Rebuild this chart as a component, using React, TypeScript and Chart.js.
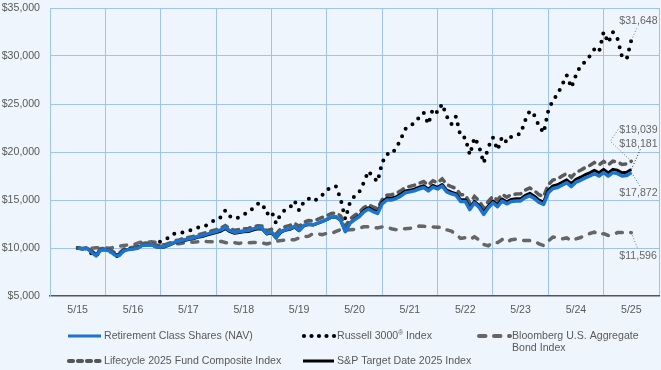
import React, { useEffect, useRef } from 'react';
import { Chart, registerables } from 'chart.js';

Chart.register(...registerables);

// ---------- DATA (monthly, 5/15 .. 5/25) ----------
const xTickLabels = ['5/15', '5/16', '5/17', '5/18', '5/19', '5/20', '5/21', '5/22', '5/23', '5/24', '5/25'];
const yTickValues = [5000, 10000, 15000, 20000, 25000, 30000, 35000];

const retirement = [
  10000, 9920, 9980, 9550, 9180, 9800, 9820, 9680, 9280, 9220, 9720, 9830,
  9900, 9980, 10280, 10300, 10350, 10120, 10080, 10200, 10380, 10600, 10700, 10830,
  10950, 11040, 11200, 11300, 11450, 11580, 11720, 11880, 12150, 11800, 11620, 11720,
  11780, 11820, 11990, 12100, 12080, 11520, 11680, 11100, 11700, 11920, 12020, 12250,
  11850, 12350, 12500, 12420, 12600, 12780, 12980, 13230, 13250, 12900, 11700, 12550,
  12950, 13250, 13750, 14050, 13800, 13600, 14600, 15000, 15000, 15150, 15400, 15750,
  15850, 15950, 16150, 16300, 15950, 16350, 16150, 16450, 15850, 15650, 15500, 14850,
  14850, 14000, 14700, 14250, 13500, 14200, 14700, 14300, 14900, 14600, 14850, 14900,
  14900, 15250, 15450, 15150, 14750, 14550, 15750, 16200, 16300, 16550, 16800, 16400,
  16850, 17050, 17300, 17500, 17750, 17500, 17850, 17500, 17850, 17750, 17500, 17550,
  17872,
];

const russell3000 = [
  10000, 9830, 10000, 9400, 9130, 9850, 9910, 9700, 9160, 9160, 9800, 9860,
  10040, 10060, 10460, 10490, 10500, 10270, 10730, 10920, 11130, 11520, 11530, 11650,
  11800, 11900, 12120, 12160, 12390, 12670, 13060, 13200, 13920, 13300, 13050, 13200,
  13500, 13700, 14150, 14600, 14650, 13550, 13850, 12550, 13550, 14000, 14200, 14900,
  13900, 14800, 15150, 14850, 15100, 15500, 16000, 16400, 16400, 15100, 13000, 14700,
  15400, 15800, 16800, 18000, 17400, 16900, 18900, 19800, 19750, 20400, 21300, 22400,
  22600, 23100, 23600, 24100, 22900, 24500, 24100, 25000, 23700, 22900, 23700, 21600,
  21500, 19700, 21500, 20600, 18850, 20500, 21500, 20200, 21600, 21000, 21600, 21800,
  21900, 23300, 24300, 23800, 22700, 22000, 24300, 25400, 26000, 27000, 28000, 26700,
  28000, 29000, 29400, 30000, 30700, 30400, 32500, 31400, 32500, 31800, 29900, 29700,
  31648,
];

const bloombergAgg = [
  10000, 9900, 9970, 9960, 10030, 10050, 10020, 9970, 10100, 10180, 10270, 10320,
  10330, 10510, 10640, 10630, 10640, 10580, 10330, 10350, 10380, 10450, 10440, 10530,
  10610, 10600, 10640, 10730, 10670, 10650, 10640, 10690, 10570, 10480, 10550, 10480,
  10560, 10550, 10570, 10570, 10510, 10430, 10530, 10720, 10770, 10840, 10870, 10850,
  11050, 11190, 11210, 11500, 11480, 11390, 11530, 11520, 11720, 11930, 11870, 11890,
  11950, 12030, 12210, 12200, 12140, 12080, 12200, 12180, 12010, 11910, 11990, 12010,
  12050, 12140, 12280, 12270, 12200, 12200, 12170, 12160, 11890, 11760, 11430, 11000,
  11070, 10900, 11160, 10840, 10370, 10230, 10600, 10560, 10880, 10600, 10870, 10930,
  10820, 10780, 10770, 10700, 10430, 10260, 10730, 11140, 11110, 10950, 11050, 10770,
  10950, 11090, 11350, 11510, 11660, 11370, 11500, 11310, 11370, 11610, 11610, 11650,
  11596,
];

const lifecycle2025 = [
  10000, 9950, 10030, 9680, 9380, 9920, 9950, 9850, 9500, 9460, 9880, 10000,
  10080, 10180, 10470, 10500, 10540, 10310, 10250, 10350, 10520, 10740, 10850, 10990,
  11110, 11210, 11370, 11480, 11630, 11770, 11910, 12080, 12330, 12010, 11840, 11930,
  12000, 12040, 12200, 12310, 12300, 11800, 11960, 11450, 12000, 12230, 12350, 12580,
  12250, 12700, 12850, 12820, 12990, 13180, 13370, 13600, 13650, 13350, 12250, 13000,
  13400, 13700, 14200, 14500, 14280, 14100, 15050, 15500, 15550, 15700, 15950, 16300,
  16420, 16540, 16750, 16920, 16560, 16990, 16800, 17200, 16600, 16380, 16200, 15540,
  15540, 14680, 15380, 14920, 14160, 14860, 15380, 14980, 15600, 15300, 15550, 15620,
  15640, 16030, 16260, 15960, 15550, 15350, 16600, 17080, 17200, 17490, 17770, 17370,
  17870, 18100, 18380, 18600, 18900, 18650, 19020, 18660, 19050, 18960, 18700, 18760,
  19039,
];

const sp2025 = [
  10000, 9930, 9990, 9600, 9280, 9820, 9840, 9700, 9350, 9320, 9760, 9860,
  9920, 10000, 10260, 10300, 10330, 10120, 10050, 10140, 10320, 10550, 10640, 10760,
  10880, 10960, 11110, 11200, 11350, 11480, 11600, 11750, 12020, 11700, 11530, 11620,
  11680, 11720, 11880, 11990, 11980, 11450, 11600, 11040, 11620, 11850, 11950, 12180,
  11800, 12300, 12450, 12390, 12570, 12750, 12950, 13200, 13220, 12880, 11750, 12600,
  13020, 13350, 13870, 14200, 13950, 13750, 14780, 15180, 15180, 15330, 15580, 15930,
  16030, 16130, 16330, 16480, 16120, 16520, 16320, 16620, 16020, 15820, 15670, 15020,
  15020, 14170, 14870, 14420, 13670, 14380, 14900, 14500, 15100, 14800, 15060, 15120,
  15120, 15480, 15690, 15390, 14990, 14790, 16010, 16470, 16580, 16840, 17100, 16700,
  17160, 17370, 17630, 17830, 18090, 17840, 18190, 17830, 18190, 18090, 17830, 17880,
  18181,
];

// ---------- STYLE ----------
const BG = '#EEF5FC';
const GRID = '#9FC3F0';
const TEXT = '#595959';
const BLUE = '#1B75D0';
const FONT = "'Liberation Sans', Arial, sans-serif";
const FS = 10.6;

const toXY = (arr: number[]) => arr.map((v, i) => ({ x: i, y: v }));
const money = (v: number) => '$' + Math.round(v).toLocaleString('en-US');

const hGridPlugin = {
  id: 'hgrid',
  beforeDatasetsDraw(chart: any) {
    const ctx = chart.ctx as CanvasRenderingContext2D;
    const ys = chart.scales.y;
    const { left, right } = chart.chartArea;
    ctx.save();
    ctx.fillStyle = GRID;
    yTickValues.forEach((v) => {
      if (v === yTickValues[0]) return;
      const y = Math.round(ys.getPixelForValue(v) - 0.5);
      ctx.fillRect(Math.floor(left), y, Math.ceil(right - left), 1);
    });
    ctx.restore();
  },
};

const overlayPlugin = {
  id: 'overlay',
  afterDraw(chart: any) {
    const ctx = chart.ctx as CanvasRenderingContext2D;
    const xs = chart.scales.x;
    const ys = chart.scales.y;
    const last = retirement.length - 1;
    const ex = xs.getPixelForValue(last);

    ctx.save();
    ctx.font = `${FS}px ${FONT}`;
    ctx.textBaseline = 'middle';
    ctx.textAlign = 'left';

    // ----- end labels with dotted leaders -----
    const leader = (pts: number[][], color: string) => {
      ctx.save();
      ctx.strokeStyle = color;
      ctx.lineWidth = 1;
      ctx.setLineDash([1, 2]);
      ctx.beginPath();
      ctx.moveTo(pts[0][0], pts[0][1]);
      for (let i = 1; i < pts.length; i++) ctx.lineTo(pts[i][0], pts[i][1]);
      ctx.stroke();
      ctx.restore();
    };
    const lx = ex - 12;
    const yR = ys.getPixelForValue(russell3000[last]);
    const yL = ys.getPixelForValue(lifecycle2025[last]);
    const yS = ys.getPixelForValue(sp2025[last]);
    const yB = ys.getPixelForValue(retirement[last]);
    const yA = ys.getPixelForValue(bloombergAgg[last]);

    leader([[ex, yR], [ex + 6, yR - 13]], '#777');
    leader([[ex, yL], [ex - 21, yL - 20], [ex - 13, yL - 32]], '#777');
    leader([[ex, yS], [ex + 9, yS - 20]], '#222');
    leader([[ex, yB], [ex + 9, yB + 14]], BLUE);
    leader([[ex, yA], [ex + 6, yA + 15]], '#777');

    ctx.fillStyle = '#666';
    ctx.fillText(money(russell3000[last]), lx, yR - 19);
    ctx.fillText(money(lifecycle2025[last]), lx, yL - 31);
    ctx.fillText(money(sp2025[last]), lx, yS - 25);
    ctx.fillText(money(retirement[last]), lx, yB + 21);
    ctx.fillText(money(bloombergAgg[last]), lx, yA + 23);

    // ----- legend -----
    const r1 = 336;
    const r2 = 361;

    // Retirement Class Shares (NAV)
    ctx.strokeStyle = BLUE;
    ctx.lineWidth = 3;
    ctx.lineCap = 'butt';
    ctx.beginPath(); ctx.moveTo(68, r1); ctx.lineTo(101, r1); ctx.stroke();
    ctx.fillStyle = TEXT;
    ctx.fillText('Retirement Class Shares (NAV)', 104, r1);

    // Russell 3000® Index
    ctx.fillStyle = '#000';
    for (let i = 0; i < 5; i++) {
      ctx.beginPath(); ctx.arc(304 + i * 7.5, r1, 2.1, 0, Math.PI * 2); ctx.fill();
    }
    ctx.fillStyle = TEXT;
    const t1 = 'Russell 3000';
    ctx.fillText(t1, 337, r1);
    const w1 = ctx.measureText(t1).width;
    ctx.font = `${FS * 0.62}px ${FONT}`;
    ctx.fillText('®', 337 + w1, r1 - 3);
    const w2 = ctx.measureText('®').width;
    ctx.font = `${FS}px ${FONT}`;
    ctx.fillText(' Index', 337 + w1 + w2, r1);

    // Bloomberg U.S. Aggregate Bond Index
    ctx.strokeStyle = '#666';
    ctx.lineWidth = 4;
    ctx.lineCap = 'round';
    ctx.setLineDash([6.5, 8.5]);
    ctx.beginPath(); ctx.moveTo(479, r1); ctx.lineTo(510, r1); ctx.stroke();
    ctx.setLineDash([]);
    ctx.fillStyle = TEXT;
    ctx.fillText('Bloomberg U.S. Aggregate', 512, r1);
    ctx.fillText('Bond Index', 512, r1 + 12.5);

    // Lifecycle 2025 Fund Composite Index
    ctx.strokeStyle = '#555';
    ctx.lineWidth = 4.2;
    ctx.setLineDash([4, 5]);
    ctx.beginPath(); ctx.moveTo(69, r2); ctx.lineTo(99.5, r2); ctx.stroke();
    ctx.setLineDash([]);
    ctx.fillStyle = TEXT;
    ctx.fillText('Lifecycle 2025 Fund Composite Index', 104, r2);

    // S&P Target Date 2025 Index
    ctx.strokeStyle = '#000';
    ctx.lineWidth = 3;
    ctx.lineCap = 'butt';
    ctx.beginPath(); ctx.moveTo(303, r2); ctx.lineTo(334, r2); ctx.stroke();
    ctx.fillStyle = TEXT;
    ctx.fillText('S&P Target Date 2025 Index', 337, r2);

    ctx.restore();
  },
};

export default function App() {
  const ref = useRef<HTMLCanvasElement | null>(null);

  useEffect(() => {
    document.body.style.margin = '0';
    document.body.style.background = BG;
    if (!ref.current) return;

    const gridVals: number[] = [];
    for (let v = -6; v <= 126; v += 12) gridVals.push(v);
    const labelVals: number[] = xTickLabels.map((_, i) => i * 12);
    const allVals = [...gridVals, ...labelVals].sort((a, b) => a - b);

    const chart = new Chart(ref.current, {
      type: 'line',
      data: {
        datasets: [
          {
            label: 'Retirement Class Shares (NAV)',
            data: toXY(retirement),
            borderColor: BLUE,
            borderWidth: 3.5,
            pointRadius: 0,
            borderJoinStyle: 'round',
            order: 0,
          },
          {
            label: 'S&P Target Date 2025 Index',
            data: toXY(sp2025),
            borderColor: '#000',
            borderWidth: 3,
            pointRadius: 0,
            borderJoinStyle: 'round',
            order: 1,
          },
          {
            label: 'Lifecycle 2025 Fund Composite Index',
            data: toXY(lifecycle2025),
            borderColor: '#5A5A5A',
            borderWidth: 3.5,
            borderDash: [6, 6],
            borderCapStyle: 'round',
            pointRadius: 0,
            order: 2,
          },
          {
            label: 'Russell 3000® Index',
            data: toXY(russell3000),
            borderColor: '#000',
            borderWidth: 4,
            borderDash: [0, 8.3],
            borderCapStyle: 'round',
            pointRadius: 0,
            order: 3,
          },
          {
            label: 'Bloomberg U.S. Aggregate Bond Index',
            data: toXY(bloombergAgg),
            borderColor: '#666',
            borderWidth: 3.5,
            borderDash: [6, 8.5],
            borderCapStyle: 'round',
            pointRadius: 0,
            order: 4,
          },
        ],
      },
      options: {
        responsive: false,
        animation: false,
        layout: { padding: { top: 8, right: 2, bottom: 50, left: 0 } },
        plugins: {
          legend: { display: false },
          tooltip: { enabled: false },
        },
        scales: {
          x: {
            type: 'linear',
            min: -6,
            max: 126,
            afterBuildTicks: (axis: any) => {
              axis.ticks = allVals.map((v) => ({ value: v }));
            },
            afterFit: (axis: any) => {
              axis.height = 24;
              axis.paddingLeft = 0;
              axis.paddingRight = 0;
            },
            grid: {
              drawTicks: false,
              lineWidth: 1,
              color: (c: any) =>
                c.tick && ((c.tick.value + 6) % 12 === 0) ? GRID : 'rgba(0,0,0,0)',
            },
            border: { display: true, color: '#555', width: 1.5 },
            ticks: {
              autoSkip: false,
              maxRotation: 0,
              padding: 8,
              color: TEXT,
              font: { family: FONT, size: FS },
              callback: (v: any) => {
                const n = Number(v);
                return n >= 0 && n % 12 === 0 ? xTickLabels[n / 12] : '';
              },
            },
          },
          y: {
            type: 'linear',
            min: 5000,
            max: 35000,
            afterBuildTicks: (axis: any) => {
              axis.ticks = yTickValues.map((v) => ({ value: v }));
            },
            afterFit: (axis: any) => {
              axis.width = 50;
              axis.paddingTop = 0;
              axis.paddingBottom = 0;
            },
            grid: { display: false, drawTicks: false },
            border: { display: true, color: GRID, width: 1 },
            ticks: {
              padding: 10,
              color: TEXT,
              font: { family: FONT, size: FS },
              callback: (v: any) => money(Number(v)),
            },
          },
        },
      } as any,
      plugins: [hGridPlugin, overlayPlugin],
    });

    return () => chart.destroy();
  }, []);

  return (
    <div style={{ width: 661, height: 370, background: BG }}>
      <canvas ref={ref} width={661} height={370} style={{ display: 'block' }} />
    </div>
  );
}
